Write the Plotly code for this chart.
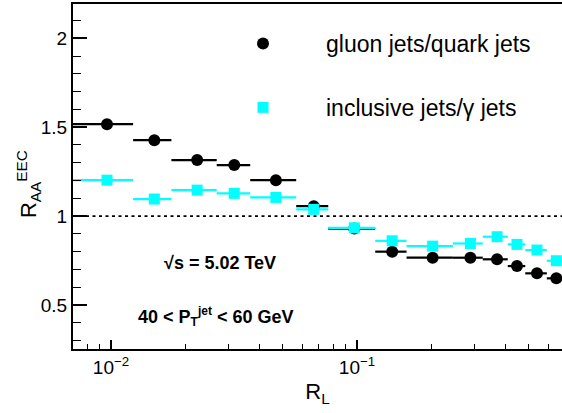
import plotly.graph_objects as go

# ---- data ----
rl_center = [0.00963, 0.0150, 0.0224, 0.0317, 0.0468, 0.0667, 0.0975,
             0.139, 0.203, 0.289, 0.371, 0.447, 0.539, 0.646]
rl_low = [0.0070, 0.0123, 0.0176, 0.0269, 0.0368, 0.0566, 0.0764,
          0.1186, 0.159, 0.2453, 0.3245, 0.410, 0.483, 0.591]
rl_high = [0.0123, 0.0176, 0.0269, 0.0368, 0.0566, 0.0764, 0.1186,
           0.159, 0.2453, 0.3245, 0.410, 0.483, 0.591, 0.70]
gluon_over_quark = [1.517, 1.427, 1.315, 1.287, 1.202, 1.056, 0.930,
                    0.800, 0.766, 0.766, 0.757, 0.719, 0.678, 0.650]
inclusive_over_gamma = [1.202, 1.096, 1.146, 1.128, 1.105, 1.038, 0.934,
                        0.861, 0.831, 0.846, 0.884, 0.841, 0.809, 0.749]
series_names = ["gluon jets/quark jets", "inclusive jets/\u03b3 jets"]
x_tickvals = [0.01, 0.1]
x_ticktext = ["10<sup>\u22122</sup>", "10<sup>\u22121</sup>"]
x_minor = [0.008, 0.009, 0.02, 0.03, 0.04, 0.05, 0.06, 0.07, 0.08, 0.09,
           0.2, 0.3, 0.4, 0.5, 0.6]
y_tickvals = [0.5, 1.0, 1.5, 2.0]
y_ticktext = ["0.5", "1", "1.5", "2"]

FONT = "Liberation Sans, Arial, Helvetica, sans-serif"

err_plus = [h - c for h, c in zip(rl_high, rl_center)]
err_minus = [c - l for c, l in zip(rl_center, rl_low)]

fig = go.Figure()
fig.add_trace(go.Scatter(
    x=rl_center, y=gluon_over_quark, mode="markers", name=series_names[0],
    legendgroup="g1",
    marker=dict(symbol="circle", size=12, color="black"),
    error_x=dict(type="data", symmetric=False, array=err_plus,
                 arrayminus=err_minus, color="black", thickness=2.2, width=0),
))
fig.add_trace(go.Scatter(
    x=rl_center, y=inclusive_over_gamma, mode="markers", name=series_names[1],
    legendgroup="g2",
    marker=dict(symbol="square", size=11, color="#00FFFF"),
    error_x=dict(type="data", symmetric=False, array=err_plus,
                 arrayminus=err_minus, color="#00FFFF", thickness=2.2, width=0),
))

fig.add_shape(type="line", xref="paper", yref="y", x0=0, x1=1, y0=1, y1=1,
              line=dict(color="black", width=1.6, dash="3px,3.5px"))

fig.add_annotation(xref="paper", yref="paper", x=0.3006, y=0.249,
                   text="<b>\u221as = 5.02 TeV</b>", showarrow=False,
                   xanchor="center", yanchor="middle",
                   font=dict(family=FONT, size=18, color="black"))
fig.add_annotation(xref="paper", yref="paper", x=0.292, y=0.093,
                   text=("<b>40 &lt; P<sub><span style=\"font-size:12px\">T</span></sub>"
                         "<sup><span style=\"font-size:12px\">jet</span></sup>"
                         " &lt; 60 GeV</b>"),
                   showarrow=False, xanchor="center", yanchor="middle",
                   font=dict(family=FONT, size=18, color="black"))
fig.add_annotation(xref="paper", yref="paper", x=0, y=0.478, xshift=-45,
                   text="R<sub>AA</sub><sup>EEC</sup>", textangle=-90,
                   showarrow=False, xanchor="center", yanchor="middle",
                   font=dict(family=FONT, size=22, color="black"))

fig.update_layout(
    width=562, height=413,
    margin=dict(l=73, r=0, t=4, b=64),
    paper_bgcolor="white", plot_bgcolor="white",
    font=dict(family=FONT, size=19, color="black"),
    showlegend=True,
    legend=dict(x=(200 - 73) / 489, y=(349 - 22) / 345, xanchor="left",
                yanchor="top", bgcolor="rgba(0,0,0,0)", borderwidth=0,
                font=dict(family=FONT, size=23, color="black"),
                tracegroupgap=31, itemwidth=116),
    xaxis=dict(
        type="log", range=[-2.1545, -0.1667],
        tickmode="array", tickvals=x_tickvals, ticktext=x_ticktext,
        ticks="inside", ticklen=9, tickwidth=1.5, tickcolor="black",
        showline=True, linecolor="black", linewidth=2, mirror=True,
        showgrid=False, zeroline=False,
        minor=dict(tickmode="array", tickvals=x_minor, ticks="inside",
                   ticklen=5, tickwidth=1.2, tickcolor="black", showgrid=False),
        title=dict(text="R<sub>L</sub>", font=dict(family=FONT, size=22),
                   standoff=7),
        tickfont=dict(family=FONT, size=19, color="black"),
    ),
    yaxis=dict(
        range=[0.2525, 2.193],
        tickmode="array", tickvals=y_tickvals, ticktext=y_ticktext,
        ticks="inside", ticklen=14, tickwidth=1.5, tickcolor="black",
        showline=True, linecolor="black", linewidth=2, mirror=False,
        showgrid=False, zeroline=False,
        minor=dict(dtick=0.1, tick0=0, ticks="inside", ticklen=8,
                   tickwidth=1.2, tickcolor="black", showgrid=False),
        tickfont=dict(family=FONT, size=19, color="black"),
    ),
)

fig.write_html("out.html")
